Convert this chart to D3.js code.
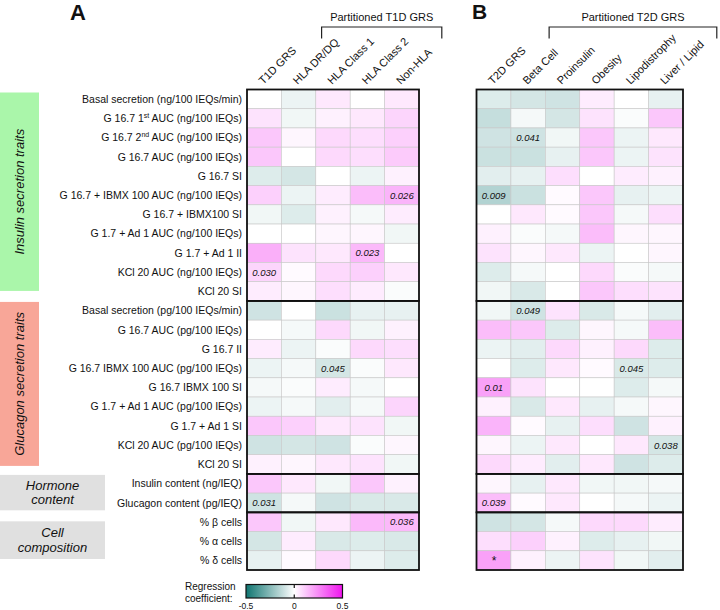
<!DOCTYPE html>
<html><head><meta charset="utf-8">
<script src="https://cdn.jsdelivr.net/npm/d3@7"></script>
<style>body{margin:0;background:#fff} svg text{font-family:"Liberation Sans",Arial,sans-serif;fill:#111}</style>
</head><body><svg id="c" width="720" height="610"></svg>
<script>
const rowLabels = [
  "Basal secretion (ng/100 IEQs/min)",
  "G 16.7 1^st AUC (ng/100 IEQs)",
  "G 16.7 2^nd AUC (ng/100 IEQs)",
  "G 16.7 AUC (ng/100 IEQs)",
  "G 16.7 SI",
  "G 16.7 + IBMX 100 AUC (ng/100 IEQs)",
  "G 16.7 + IBMX100 SI",
  "G 1.7 + Ad 1 AUC (ng/100 IEQs)",
  "G 1.7 + Ad 1 II",
  "KCl 20 AUC (ng/100 IEQs)",
  "KCl 20 SI",
  "Basal secretion (pg/100 IEQs/min)",
  "G 16.7 AUC (pg/100 IEQs)",
  "G 16.7 II",
  "G 16.7 IBMX 100 AUC (pg/100 IEQs)",
  "G 16.7 IBMX 100 SI",
  "G 1.7 + Ad 1 AUC (pg/100 IEQs)",
  "G 1.7 + Ad 1 SI",
  "KCl 20 AUC (pg/100 IEQs)",
  "KCl 20 SI",
  "Insulin content (ng/IEQ)",
  "Glucagon content (pg/IEQ)",
  "% β cells",
  "% α cells",
  "% δ cells"
];
const groupNames = ["Insulin secretion traits", "Glucagon secretion traits", "Hormone content", "Cell composition"];
const groupSizes = [11, 9, 2, 3];

const t1dColumns = ["T1D GRS", "HLA DR/DQ", "HLA Class 1", "HLA Class 2", "Non-HLA"];
const t2dColumns = ["T2D GRS", "Beta Cell", "Proinsulin", "Obesity", "Lipodistrophy", "Liver / Lipid"];

const t1dValues = [
  [0.00, -0.04, 0.05, 0.00, 0.05],
  [0.06, -0.03, 0.03, 0.05, 0.09],
  [0.12, 0.02, 0.08, 0.07, 0.10],
  [0.12, 0.00, 0.08, 0.07, 0.11],
  [-0.07, -0.09, 0.00, -0.04, 0.03],
  [0.10, -0.04, 0.04, 0.14, 0.16],
  [-0.03, -0.07, 0.03, -0.02, 0.04],
  [0.00, 0.00, 0.02, 0.02, -0.03],
  [0.17, 0.06, 0.05, 0.15, 0.00],
  [0.09, 0.01, 0.08, 0.10, 0.05],
  [0.04, 0.02, 0.07, 0.04, -0.01],
  [-0.10, 0.00, -0.11, -0.05, -0.05],
  [0.00, -0.02, 0.08, -0.03, 0.03],
  [0.04, -0.04, -0.01, 0.08, 0.07],
  [-0.04, -0.02, -0.09, -0.01, 0.05],
  [-0.02, -0.01, 0.04, -0.02, 0.00],
  [-0.04, -0.02, -0.06, -0.02, 0.09],
  [0.12, 0.10, 0.05, 0.06, -0.03],
  [-0.10, -0.09, -0.10, -0.01, 0.02],
  [0.03, 0.02, 0.05, 0.06, -0.03],
  [0.12, 0.05, -0.03, 0.12, 0.03],
  [-0.10, -0.02, -0.10, -0.08, -0.08],
  [0.12, -0.03, 0.05, 0.15, 0.15],
  [-0.09, 0.04, -0.08, -0.07, -0.08],
  [-0.05, 0.01, 0.08, -0.04, -0.07]
];
const t2dValues = [
  [-0.07, -0.09, -0.10, 0.04, 0.00, -0.05],
  [-0.12, -0.02, -0.09, 0.06, -0.01, 0.12],
  [-0.10, -0.10, -0.03, 0.12, -0.04, 0.05],
  [-0.11, -0.11, -0.05, 0.12, -0.04, 0.06],
  [-0.06, -0.05, 0.07, 0.00, 0.04, 0.03],
  [-0.16, -0.11, 0.01, 0.12, -0.05, -0.04],
  [0.00, 0.05, 0.01, 0.12, -0.02, 0.07],
  [0.03, -0.01, -0.02, 0.14, 0.02, 0.02],
  [0.06, 0.02, 0.05, -0.04, 0.00, 0.02],
  [-0.07, -0.02, 0.00, 0.08, -0.01, -0.02],
  [-0.03, -0.08, 0.00, 0.12, 0.07, 0.06],
  [-0.03, -0.10, 0.06, -0.08, -0.02, -0.06],
  [0.14, 0.12, -0.07, 0.02, -0.02, 0.14],
  [-0.04, -0.06, 0.08, 0.03, 0.08, -0.07],
  [0.00, -0.07, 0.05, 0.01, -0.08, -0.07],
  [0.20, 0.06, 0.00, 0.00, -0.07, -0.02],
  [0.03, -0.08, 0.05, -0.05, -0.02, 0.02],
  [0.16, 0.01, -0.05, 0.07, -0.10, 0.03],
  [0.02, -0.04, 0.05, 0.00, 0.05, -0.09],
  [0.08, 0.04, -0.06, 0.05, -0.10, -0.07],
  [0.02, -0.05, 0.05, -0.03, -0.03, -0.02],
  [0.14, 0.01, 0.05, 0.00, -0.02, -0.04],
  [-0.10, -0.09, -0.02, 0.08, 0.08, 0.04],
  [0.07, 0.10, 0.03, -0.07, -0.05, -0.03],
  [0.20, 0.03, -0.04, 0.06, -0.03, -0.06]
];
// [row index, column index, text]
const t1dNotes = [[5, 4, "0.026"], [8, 3, "0.023"], [9, 0, "0.030"], [14, 2, "0.045"], [21, 0, "0.031"], [22, 4, "0.036"]];
const t2dNotes = [[2, 1, "0.041"], [5, 0, "0.009"], [11, 1, "0.049"], [14, 4, "0.045"], [15, 0, "0.01"], [18, 5, "0.038"], [21, 0, "0.039"], [24, 0, "*"]];
const legendTicks = [-0.5, 0, 0.5];

const svg = d3.select("#c");
const color = d3.scaleLinear().domain([-0.5, 0, 0.5]).range(["#0f7571", "#ffffff", "#f014ee"]);
const y = d3.scaleBand().domain(d3.range(rowLabels.length)).range([89.5, 570]);
const rh = y.bandwidth();
const groupStarts = groupSizes.map((s, i) => d3.sum(groupSizes.slice(0, i)));

// row labels
const rl = svg.append("g").selectAll("text").data(rowLabels).join("text")
  .attr("x", 242).attr("y", (d, i) => y(i) + rh / 2 + 3.8)
  .attr("text-anchor", "end").style("font-size", "10.5px");
rl.each(function(d) {
  const t = d3.select(this);
  const parts = d.split(/\^(\w+)/);
  parts.forEach((p, k) => {
    if (k % 2 === 1) t.append("tspan").attr("dy", -4).style("font-size", "7px").text(p);
    else if (k > 0) t.append("tspan").attr("dy", 4).text(p);
    else t.append("tspan").text(p);
  });
});

// group boxes
const gb = svg.append("g");
const boxSpec = [
  {fill: "#aaf6aa", x: 0, w: 39, pad: [3, 10]},
  {fill: "#f8a698", x: 0, w: 39, pad: [1, 8]},
  {fill: "#e0e0e0", x: 0, w: 105, pad: [1, 2]},
  {fill: "#e0e0e0", x: 0, w: 105, pad: [9, 11]}
];
groupSizes.forEach((s, gi) => {
  const y0 = y(groupStarts[gi]) + boxSpec[gi].pad[0];
  const y1 = y(groupStarts[gi] + s - 1) + rh - boxSpec[gi].pad[1];
  gb.append("rect").attr("x", boxSpec[gi].x).attr("y", y0).attr("width", boxSpec[gi].w).attr("height", y1 - y0).attr("fill", boxSpec[gi].fill);
  if (gi < 2) {
    gb.append("text").attr("transform", `translate(${boxSpec[gi].w / 2 + 4.5},${(y0 + y1) / 2}) rotate(-90)`)
      .attr("text-anchor", "middle").style("font-size", "13px").style("font-style", "italic").text(groupNames[gi]);
  } else {
    const words = groupNames[gi].split(" ");
    words.forEach((w, k) => {
      gb.append("text").attr("x", boxSpec[gi].w / 2).attr("y", (y0 + y1) / 2 - 3 + k * 14.5)
        .attr("text-anchor", "middle").style("font-size", "13px").style("font-style", "italic").text(w);
    });
  }
});

function panel(cols, values, notes, x0, x1) {
  const x = d3.scaleBand().domain(d3.range(cols.length)).range([x0, x1]);
  const bw = x.bandwidth();
  const g = svg.append("g");
  const cells = [];
  values.forEach((row, i) => row.forEach((v, j) => cells.push({i, j, v})));
  g.selectAll("rect.cell").data(cells).join("rect").attr("class", "cell")
    .attr("x", d => x(d.j)).attr("y", d => y(d.i)).attr("width", bw).attr("height", rh)
    .attr("fill", d => color(d.v)).attr("stroke", "#c8c8c8").attr("stroke-width", 0.6);
  g.selectAll("text.note").data(notes).join("text").attr("class", "note")
    .attr("x", d => x(d[1]) + bw / 2).attr("y", d => y(d[0]) + rh / 2 + (d[2] === "*" ? 5 : 3.5))
    .attr("text-anchor", "middle").style("font-size", d => d[2] === "*" ? "12px" : "9.5px")
    .style("font-style", "italic").text(d => d[2]);
  // group outlines
  groupSizes.forEach((s, gi) => {
    const y0 = y(groupStarts[gi]);
    const y1 = y(groupStarts[gi] + s - 1) + rh;
    g.append("rect").attr("x", x0).attr("y", y0).attr("width", x1 - x0).attr("height", y1 - y0)
      .attr("fill", "none").attr("stroke", "#111").attr("stroke-width", 1.8);
  });
  // column labels
  g.selectAll("text.col").data(cols).join("text").attr("class", "col")
    .attr("transform", (d, j) => `translate(${x(j) + bw / 2 - 1},${85}) rotate(-45)`)
    .style("font-size", "11px").text(d => d);
  return x;
}

const xA = panel(t1dColumns, t1dValues, t1dNotes, 247, 419);
const xB = panel(t2dColumns, t2dValues, t2dNotes, 476.5, 683);

function bracket(x0, x1, label) {
  svg.append("path").attr("d", `M${x0},38.5V27H${x1}V38.5`).attr("fill", "none").attr("stroke", "#222").attr("stroke-width", 1.2);
  svg.append("text").attr("x", (x0 + x1) / 2).attr("y", 20.5).attr("text-anchor", "middle").style("font-size", "11px").text(label);
}
bracket(xA(1) + xA.bandwidth() / 2 + 23, xA(4) + xA.bandwidth() / 2 + 40, "Partitioned T1D GRS");
bracket(xB(1) + xB.bandwidth() / 2 + 21, xB(5) + xB.bandwidth() / 2 + 51, "Partitioned T2D GRS");

svg.append("text").attr("x", 70).attr("y", 20).style("font-size", "22px").style("font-weight", "bold").text("A");
svg.append("text").attr("x", 472).attr("y", 18.5).style("font-size", "21px").style("font-weight", "bold").text("B");

// legend
const defs = svg.append("defs");
const grad = defs.append("linearGradient").attr("id", "lg");
d3.range(0, 1.0001, 0.1).forEach(t => grad.append("stop").attr("offset", t).attr("stop-color", color(-0.5 + t)));
const lx = d3.scaleLinear().domain([-0.5, 0.5]).range([246, 342.5]);
svg.append("rect").attr("x", lx(-0.5)).attr("y", 584.5).attr("width", lx(0.5) - lx(-0.5)).attr("height", 13.5)
  .attr("fill", "url(#lg)").attr("stroke", "#111").attr("stroke-width", 1.2);
svg.append("line").attr("x1", lx(0)).attr("x2", lx(0)).attr("y1", 584.5).attr("y2", 588).attr("stroke", "#111").attr("stroke-width", 1.2);
svg.append("line").attr("x1", lx(0)).attr("x2", lx(0)).attr("y1", 594.5).attr("y2", 598).attr("stroke", "#111").attr("stroke-width", 1.2);
svg.selectAll("text.lt").data(legendTicks).join("text").attr("class", "lt")
  .attr("x", d => lx(d)).attr("y", 609).attr("text-anchor", "middle").style("font-size", "8.5px").text(d => d);
svg.append("text").attr("x", 185).attr("y", 590).style("font-size", "10px").text("Regression");
svg.append("text").attr("x", 185).attr("y", 601.5).style("font-size", "10px").text("coefficient:");
</script></body></html>
